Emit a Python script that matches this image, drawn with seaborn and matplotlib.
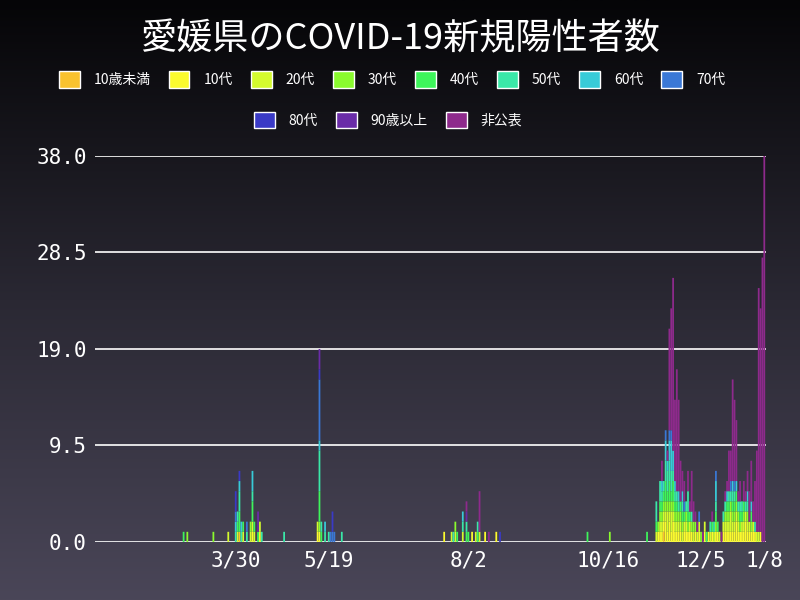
import numpy as np
import pandas as pd
import matplotlib
matplotlib.use("Agg")
import matplotlib.pyplot as plt
import seaborn as sns
from matplotlib.patches import Patch
from matplotlib.colors import LinearSegmentedColormap

groups = ["10歳未満", "10代", "20代", "30代", "40代", "50代", "60代", "70代", "80代", "90歳以上", "非公表"]
colors = ["#f9c22e", "#fbfb2e", "#d4fb2e", "#8afb2e", "#3ef55b", "#3ae8a8", "#38cbd8", "#3a78d6", "#3a3ac6", "#6a2ca8", "#8e2a8c"]

early_dates = ["2020-03-02", "2020-03-04", "2020-03-18", "2020-03-26", "2020-03-30", "2020-03-31",
               "2020-04-01", "2020-04-02", "2020-04-03", "2020-04-05", "2020-04-07", "2020-04-08",
               "2020-04-09", "2020-04-11", "2020-04-12", "2020-04-13", "2020-04-25", "2020-05-13",
               "2020-05-14", "2020-05-15", "2020-05-17", "2020-05-19", "2020-05-20", "2020-05-21",
               "2020-05-22", "2020-05-26"]
early_rows = [
    [0,0,0,0,1,0,0,0,0,0,0], [0,0,0,1,0,0,0,0,0,0,0], [0,0,0,1,0,0,0,0,0,0,0], [0,0,1,0,0,0,0,0,0,0,0],
    [0,0,0,0,0,1,1,1,2,0,0], [0,0,1,0,1,1,0,0,0,0,0], [1,0,0,0,2,2,1,0,1,0,0], [0,0,0,0,0,1,1,0,0,0,0],
    [0,0,1,0,1,0,0,0,0,0,0], [0,0,0,0,0,1,0,1,0,0,0], [0,0,1,1,0,0,0,0,0,0,0], [0,1,1,0,2,1,2,0,0,0,0],
    [0,0,1,0,1,0,0,0,0,0,0], [0,0,0,0,1,0,0,0,0,2,0], [0,1,1,0,0,0,0,0,0,0,0], [0,0,0,0,0,1,0,0,0,0,0],
    [0,0,0,0,0,1,0,0,0,0,0], [0,1,1,0,0,0,0,0,0,0,0], [0,1,0,1,3,4,1,6,1,2,0], [0,0,0,0,1,1,0,0,0,0,0],
    [0,0,0,0,0,1,1,0,0,0,0], [0,0,0,0,0,1,0,0,0,0,0], [0,0,0,0,0,0,0,1,0,0,0], [0,0,0,0,0,0,0,1,2,0,0],
    [0,0,0,0,0,0,0,1,0,0,0], [0,0,0,0,0,1,0,0,0,0,0],
]
summer_dates = ["2020-07-20", "2020-07-24", "2020-07-25", "2020-07-26", "2020-07-27", "2020-07-30",
                "2020-08-01", "2020-08-02", "2020-08-04", "2020-08-06", "2020-08-07", "2020-08-08",
                "2020-08-11", "2020-08-13", "2020-08-17", "2020-08-19", "2020-10-05", "2020-10-17", "2020-11-06"]
summer_rows = [
    [0,1,0,0,0,0,0,0,0,0,0], [0,0,1,0,0,0,0,0,0,0,0], [0,0,0,0,0,1,0,0,0,0,0], [0,0,1,1,0,0,0,0,0,0,0],
    [0,0,0,0,1,0,0,0,0,0,0], [0,0,1,0,0,1,1,0,0,0,0], [0,0,0,0,1,1,0,0,0,1,1], [0,0,0,0,1,0,0,0,0,0,0],
    [0,1,0,0,0,0,0,0,0,0,0], [0,0,1,0,0,0,0,0,0,0,0], [0,0,0,0,1,1,0,0,0,0,0], [0,0,1,0,0,0,0,0,0,0,4],
    [0,1,0,0,0,0,0,0,0,0,0], [0,0,0,0,0,0,0,0,0,0,1], [0,1,0,0,0,0,0,0,0,0,0], [0,0,0,0,0,0,0,0,1,0,0],
    [0,0,0,0,1,0,0,0,0,0,0], [0,0,0,1,0,0,0,0,0,0,0], [0,0,0,0,1,0,0,0,0,0,0],
]
late_start = "2020-11-11"
late_rows = [
    [0,0,1,0,1,2,0,0,0,0,0], [0,1,0,1,0,0,0,0,0,0,0], [0,1,1,1,1,2,0,0,0,0,0], [0,1,1,1,1,1,1,0,0,0,2],
    [1,1,1,1,1,1,0,0,0,0,0], [0,2,1,1,2,2,2,1,0,0,0], [0,1,2,1,1,2,1,0,0,0,1], [0,2,1,1,2,2,2,1,0,0,10],
    [0,1,2,1,1,2,3,1,0,0,12], [0,2,1,1,2,1,2,0,0,0,17], [0,1,1,1,1,1,1,0,0,0,8], [0,1,1,1,1,1,0,0,0,0,12],
    [0,1,1,1,0,1,1,0,0,0,9], [0,1,1,1,1,0,0,0,0,0,4], [0,0,1,1,1,1,1,0,0,0,2], [0,1,1,0,1,0,0,1,0,0,2],
    [0,1,1,1,0,1,0,0,0,0,0], [0,1,0,1,1,2,0,0,0,0,2], [0,1,1,0,1,0,0,0,0,0,1], [0,1,0,1,0,1,0,0,0,0,4],
    [0,0,1,1,0,0,0,0,0,0,2], [0,1,0,1,0,0,0,0,0,0,1], [0,0,1,0,0,0,0,0,0,0,1], [0,1,1,0,0,0,0,1,0,0,0],
    [0,0,0,1,0,0,0,0,0,0,0], [0,0,0,0,0,0,0,0,0,0,1], [0,1,1,0,0,0,0,0,0,0,0], [0,0,0,0,1,0,0,0,0,0,0],
    [0,1,0,0,0,0,0,0,0,0,0], [0,0,1,0,0,1,0,0,0,0,0], [0,1,0,0,1,0,0,0,0,0,1], [0,0,1,0,0,1,0,0,0,0,0],
    [0,1,0,1,1,1,2,1,0,0,0], [0,1,0,0,1,0,0,0,0,0,0], [0,0,1,0,0,0,0,0,0,0,0], [0,0,0,0,0,0,0,0,0,0,1],
    [0,1,1,0,0,1,0,0,0,0,0], [0,1,1,1,0,1,0,0,0,0,1], [0,1,1,1,1,0,1,0,0,0,1], [0,1,1,1,1,1,0,0,0,0,4],
    [0,1,2,1,0,1,0,1,0,0,3], [0,1,1,1,1,1,1,0,0,0,10], [0,1,1,1,1,1,0,1,0,0,8], [0,2,1,1,1,0,1,0,0,0,6],
    [0,1,1,1,0,1,0,0,0,0,1], [0,1,0,1,1,1,0,0,0,0,2], [0,1,1,0,1,1,0,0,0,0,0], [0,1,1,1,1,0,0,0,0,0,2],
    [0,2,1,0,0,1,0,0,0,0,1], [0,1,1,1,0,1,1,0,0,0,2], [0,1,1,0,0,0,0,0,0,0,3], [0,1,0,1,1,0,1,0,0,0,4],
    [0,1,1,0,0,0,0,0,0,0,2], [0,1,0,0,0,1,0,0,0,0,4], [0,0,1,0,0,0,0,0,0,0,8], [0,0,1,0,0,0,0,0,0,0,24],
    [0,1,0,0,0,0,0,0,0,0,22], [0,0,0,0,0,0,0,0,0,0,28], [0,0,0,0,0,0,0,0,0,0,38],
]
tick_dates = ["2020-03-30", "2020-05-19", "2020-08-02", "2020-10-16", "2020-12-05", "2021-01-08"]
tick_labels = ["3/30", "5/19", "8/2", "10/16", "12/5", "1/8"]
y_ticks = [0, 9.5, 19, 28.5, 38]

origin = pd.Timestamp("2020-01-15")
def day(s):
    return (pd.Timestamp(s) - origin).days

all_dates = [day(d) for d in early_dates + summer_dates]
all_dates += [day(late_start) + i for i in range(len(late_rows))]
table = pd.DataFrame(early_rows + summer_rows + late_rows, columns=groups)
table["day"] = all_dates

sns.set_theme(style="dark")
plt.rcParams['font.family'] = ['Noto Sans CJK JP', 'DejaVu Sans']

fig = plt.figure(figsize=(8, 6), dpi=100)
bg = fig.add_axes([0, 0, 1, 1], zorder=-10)
grad = np.linspace(0, 1, 256).reshape(-1, 1)
cm = LinearSegmentedColormap.from_list("bg", ["#050507", "#2a2833", "#4a4658"])
bg.imshow(grad, aspect="auto", cmap=cm, extent=[0, 1, 0, 1], origin="upper")
bg.axis("off")

ax = fig.add_axes([0.119, 0.0967, 0.838, 0.6433])
ax.set_facecolor("none")
bottom = np.zeros(len(table))
for g, c in zip(groups, colors):
    vals = table[g].to_numpy()
    ax.bar(table["day"], vals, bottom=bottom, width=0.95, color=c, linewidth=0, zorder=3, snap=False)
    bottom += vals
ax.set_xlim(-0.5, day("2021-01-08") + 0.7)
ax.set_ylim(0, 38)
ax.set_yticks(y_ticks)
ax.set_yticklabels([f"{v:.1f}" for v in y_ticks], color="white", fontsize=15, family="DejaVu Sans Mono")
ax.set_xticks([day(d) for d in tick_dates])
ax.set_xticklabels(tick_labels, color="white", fontsize=15, family="DejaVu Sans Mono")
ax.grid(axis="y", color="white", linewidth=1.2)
ax.grid(axis="x", visible=False)
ax.set_axisbelow(True)
for s in ax.spines.values():
    s.set_visible(False)
ax.tick_params(length=0, pad=6)

fig.text(0.5, 0.935, "愛媛県のCOVID-19新規陽性者数", color="white", fontsize=26, ha="center", va="center")
handles = [Patch(facecolor=c, label=g) for g, c in zip(groups, colors)]
kw = dict(loc="center", ncol=8, frameon=False, labelcolor="white", fontsize=10,
          handlelength=1.5, handleheight=1.5, columnspacing=1.3, handletextpad=1.0)
fig.legend(handles=handles[:8], bbox_to_anchor=(0.49, 0.867), **kw)
kw["ncol"] = 3
fig.legend(handles=handles[8:], bbox_to_anchor=(0.485, 0.8), **kw)
fig.savefig("out.png", dpi=100)
